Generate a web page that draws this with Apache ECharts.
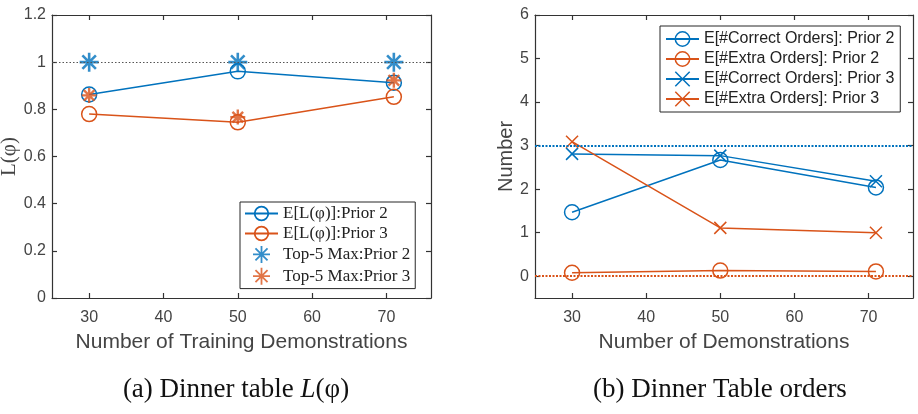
<!DOCTYPE html>
<html>
<head>
<meta charset="utf-8">
<script src="https://cdn.jsdelivr.net/npm/echarts@6/dist/echarts.min.js"></script>
<style>
html, body { margin: 0; padding: 0; background: #fff; }
#chart { width: 918px; height: 414px; }
</style>
</head>
<body>
<div id="chart"></div>
<script>
// x positions of the runs (number of demonstrations)
const demos = [30, 50, 71]
const xTicks = [30, 40, 50, 60, 70]

// (a) Dinner table L(phi)
const lossTicks = [0, 0.2, 0.4, 0.6, 0.8, 1, 1.2]
const expLossPrior2 = [0.863, 0.961, 0.913]
const expLossPrior3 = [0.780, 0.745, 0.853]
const topMaxPrior2 = [1, 1, 1]
const topMaxPrior3 = [0.859, 0.767, 0.923]
const lossRef = 1

// (b) Dinner table orders
const numberTicks = [0, 1, 2, 3, 4, 5, 6]
const correctPrior2 = [1.47, 2.67, 2.04]
const extraPrior2 = [0.08, 0.13, 0.11]
const correctPrior3 = [2.81, 2.77, 2.18]
const extraPrior3 = [3.09, 1.11, 1.00]
const correctRef = 3
const extraRef = 0

const BLUE = '#0072BD'
const ORANGE = '#D95319'
const INK = '#444'
const SANS = 'Liberation Sans, Arial, sans-serif'
const SERIF = 'Liberation Serif, Times New Roman, serif'
const STAR = 'path://M10,0L10,20M0,10L20,10M2.9,2.9L17.1,17.1M2.9,17.1L17.1,2.9'
const CROSS = 'path://M0,0L10,10M0,10L10,0'

const pairs = ys => demos.map((x, i) => [x, ys[i]])

function boxAxis(grid, pos, ticks, range, extra) {
    const a = {
        type: 'value',
        gridIndex: grid,
        position: pos,
        min: range[0],
        max: range[1],
        axisLine: { show: true, onZero: false, lineStyle: { color: '#333', width: 1.2 } },
        axisTick: { show: true, inside: true, length: 5, customValues: ticks, lineStyle: { color: '#333', width: 1.2 } },
        axisLabel: { show: false, customValues: ticks },
        splitLine: { show: false }
    }
    return Object.assign(a, extra || {})
}

function tickLabel(margin, ticks) {
    return { show: true, margin: margin, color: INK, fontFamily: SANS, fontSize: 16, customValues: ticks }
}

function lineSeries(name, xi, yi, ys, color, symbol, size) {
    return {
        type: 'line', name: name, xAxisIndex: xi, yAxisIndex: yi,
        data: pairs(ys),
        symbol: symbol, symbolSize: size,
        lineStyle: { color: color, width: 1.5 },
        itemStyle: { color: 'transparent', borderColor: color, borderWidth: 1.5 },
        z: 3
    }
}

function refLine(y, color, width, dash) {
    return {
        silent: true, symbol: ['none', 'none'],
        label: { show: false },
        lineStyle: { color: color, width: width, type: dash },
        emphasis: { disabled: true },
        data: [{ yAxis: y }]
    }
}

const chart = echarts.init(document.getElementById('chart'))

const xRange = [25, 76]

const option = {
    animation: false,
    backgroundColor: '#fff',
    title: [
        {
            text: '(a) Dinner table {i|L}(φ)',
            left: 231, top: 371, textAlign: 'center',
            textStyle: {
                fontFamily: SERIF, fontSize: 27, fontWeight: 'normal', color: '#111',
                rich: { i: { fontFamily: SERIF, fontSize: 27, fontStyle: 'italic', color: '#111' } }
            }
        },
        {
            text: '(b) Dinner Table orders',
            left: 715, top: 371, textAlign: 'center',
            textStyle: { fontFamily: SERIF, fontSize: 27, fontWeight: 'normal', color: '#111' }
        }
    ],
    grid: [
        { left: 52, top: 15, width: 379, height: 283, outerBoundsMode: 'none' },
        { left: 535, top: 15, width: 378, height: 283, outerBoundsMode: 'none' }
    ],
    xAxis: [
        boxAxis(0, 'bottom', xTicks, xRange, {
            axisLabel: tickLabel(12, xTicks),
            name: 'Number of Training Demonstrations',
            nameLocation: 'middle', nameGap: 34,
            nameTextStyle: { color: INK, fontFamily: SANS, fontSize: 21 }
        }),
        boxAxis(0, 'top', xTicks, xRange),
        boxAxis(1, 'bottom', xTicks, xRange, {
            axisLabel: tickLabel(12, xTicks),
            name: 'Number of Demonstrations',
            nameLocation: 'middle', nameGap: 34,
            nameTextStyle: { color: INK, fontFamily: SANS, fontSize: 21 }
        }),
        boxAxis(1, 'top', xTicks, xRange)
    ],
    yAxis: [
        boxAxis(0, 'left', lossTicks, [0, 1.2], {
            axisLabel: tickLabel(6, lossTicks),
            name: 'L(φ)',
            nameLocation: 'middle', nameGap: 30,
            nameTextStyle: { color: INK, fontFamily: SERIF, fontSize: 21 }
        }),
        boxAxis(0, 'right', lossTicks, [0, 1.2]),
        boxAxis(1, 'left', numberTicks, [-0.5, 6], {
            axisLabel: tickLabel(6, numberTicks),
            name: 'Number',
            nameLocation: 'middle', nameGap: 18,
            nameTextStyle: { color: INK, fontFamily: SANS, fontSize: 20 }
        }),
        boxAxis(1, 'right', numberTicks, [-0.5, 6])
    ],
    legend: [
        {
            orient: 'vertical', left: 240, top: 202,
            padding: [3, 5, 3, 4], itemGap: 3, itemWidth: 33, itemHeight: 17,
            borderColor: '#262626', borderWidth: 1, backgroundColor: '#fff',
            selectedMode: false,
            itemStyle: { borderWidth: 1.8 },
            textStyle: { fontFamily: SERIF, fontSize: 17, color: '#222' },
            data: ['E[L(φ)]:Prior 2', 'E[L(φ)]:Prior 3', 'Top-5 Max:Prior 2', 'Top-5 Max:Prior 3']
        },
        {
            orient: 'vertical', left: 660, top: 26,
            padding: [5, 6, 5, 5], itemGap: 4, itemWidth: 33, itemHeight: 18,
            borderColor: '#262626', borderWidth: 1, backgroundColor: '#fff',
            selectedMode: false,
            itemStyle: { borderWidth: 1.5 },
            textStyle: { fontFamily: SANS, fontSize: 16, color: '#222' },
            data: ['E[#Correct Orders]: Prior 2', 'E[#Extra Orders]: Prior 2',
                'E[#Correct Orders]: Prior 3', 'E[#Extra Orders]: Prior 3']
        }
    ],
    series: [
        Object.assign(lineSeries('E[L(φ)]:Prior 2', 0, 0, expLossPrior2, BLUE, 'circle', 15), {
            markLine: refLine(lossRef, '#555', 1, [1.5, 2])
        }),
        lineSeries('E[L(φ)]:Prior 3', 0, 0, expLossPrior3, ORANGE, 'circle', 15),
        {
            type: 'scatter', name: 'Top-5 Max:Prior 2', xAxisIndex: 0, yAxisIndex: 0,
            data: pairs(topMaxPrior2), symbol: STAR, symbolSize: 19,
            itemStyle: { color: BLUE, borderColor: BLUE, borderWidth: 2.6 }, z: 4
        },
        {
            type: 'scatter', name: 'Top-5 Max:Prior 3', xAxisIndex: 0, yAxisIndex: 0,
            data: pairs(topMaxPrior3), symbol: STAR, symbolSize: 15,
            itemStyle: { color: ORANGE, borderColor: ORANGE, borderWidth: 2.4 }, z: 4
        },
        lineSeries('E[#Correct Orders]: Prior 2', 2, 2, correctPrior2, BLUE, 'circle', 15),
        Object.assign(lineSeries('E[#Extra Orders]: Prior 2', 2, 2, extraPrior2, ORANGE, 'circle', 15), {
            markLine: refLine(extraRef, ORANGE, 2, [2, 1.5])
        }),
        Object.assign(lineSeries('E[#Correct Orders]: Prior 3', 2, 2, correctPrior3, BLUE, CROSS, 12), {
            markLine: refLine(correctRef, BLUE, 2, [2, 1.5])
        }),
        lineSeries('E[#Extra Orders]: Prior 3', 2, 2, extraPrior3, ORANGE, CROSS, 12)
    ]
}

chart.setOption(option)
</script>
</body>
</html>
